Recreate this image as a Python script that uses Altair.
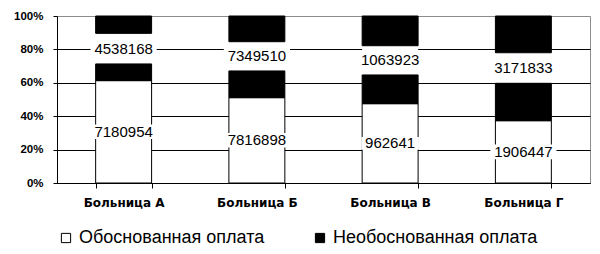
import altair as alt
import pandas as pd

hospitals = ["Больница А", "Больница Б", "Больница В", "Больница Г"]
series = ["Обоснованная оплата", "Необоснованная оплата"]
# segment shares (% of each bar), from bottom to top
just_lower = [61.3, 51.1, 47.5, 37.3]
unjust_lower = [10.0, 16.0, 17.2, 22.4]
just_upper = [18.3, 17.5, 17.5, 18.3]
unjust_upper = [10.4, 15.4, 17.8, 22.0]
labels_lower = [7180954, 7816898, 962641, 1906447]
labels_upper = [4538168, 7349510, 1063923, 3171833]
y_ticks = [0, 20, 40, 60, 80, 100]

rows = []
for i, h in enumerate(hospitals):
    segs = [
        (series[0], just_lower[i], "lower", str(labels_lower[i])),
        (series[1], unjust_lower[i], "lower", ""),
        (series[0], just_upper[i], "upper", str(labels_upper[i])),
        (series[1], unjust_upper[i], "upper", ""),
    ]
    base = 0.0
    for s, v, part, lab in segs:
        rows.append(dict(hospital=h, series=s, part=part, y0=base, y1=base + v,
                         mid=base + v / 2, label=lab))
        base += v
df = pd.DataFrame(rows)

x_enc = alt.X(
    "hospital:N", sort=hospitals, title=None,
    scale=alt.Scale(paddingInner=0.58, paddingOuter=0.29),
    axis=alt.Axis(labelAngle=0, tickBand="extent", tickSize=5, tickColor="black",
                  domainColor="black", labelFont="DejaVu Sans", labelFontWeight="bold",
                  labelFontSize=12, labelColor="black", labelPadding=9),
)
y_scale = alt.Scale(domain=[0, 100], nice=False)
y_axis = alt.Axis(
    values=y_ticks, labelExpr="datum.value + '%'", title=None, grid=True,
    gridColor={"condition": {"test": "datum.value === 100", "value": "#8c8c8c"}, "value": "black"},
    gridOpacity=1, domainColor="black", tickColor="black", tickSize=4,
    labelFont="Liberation Sans", labelFontWeight="bold", labelFontSize=11.5,
    labelColor="black", labelPadding=10,
)

base = alt.Chart(df)

gap = base.transform_filter(
    (alt.datum.part == "upper") & (alt.datum.series == series[0])
).mark_bar(fill="white", strokeWidth=0).encode(
    x=x_enc, y=alt.Y("y0:Q", scale=y_scale, axis=y_axis), y2="y1:Q"
)

main = base.transform_filter(
    ~((alt.datum.part == "upper") & (alt.datum.series == series[0]))
).mark_bar(stroke="black", strokeWidth=1).encode(
    x=x_enc,
    y=alt.Y("y0:Q", scale=y_scale, axis=y_axis),
    y2="y1:Q",
    color=alt.Color(
        "series:N",
        scale=alt.Scale(domain=series, range=["white", "black"]),
        legend=alt.Legend(
            title=None, orient="none", legendX=0, legendY=213, direction="horizontal",
            columns=2, columnPadding=46, symbolType="square", symbolSize=85,
            symbolStrokeColor="black", symbolStrokeWidth=1, symbolOpacity=1,
            labelFont="Liberation Sans", labelFontSize=18, labelColor="black",
            labelOffset=4, labelLimit=400, padding=0,
        ),
    ),
)

labeled = base.transform_filter(alt.datum.label != "").transform_calculate(
    boxsize="pow(length(datum.label) * 8.6 + 6, 2)"
)

boxes = labeled.mark_point(
    shape="M-1,-0.22L1,-0.22L1,0.22L-1,0.22Z", filled=True, fill="white",
    strokeWidth=0, opacity=1,
).encode(
    x=x_enc, y=alt.Y("mid:Q", scale=y_scale, axis=y_axis),
    size=alt.Size("boxsize:Q", scale=None, legend=None),
)

texts = labeled.mark_text(
    font="Liberation Sans", fontSize=15, color="black", baseline="middle", align="center"
).encode(
    x=x_enc, y=alt.Y("mid:Q", scale=y_scale, axis=y_axis), text="label:N"
)

chart = alt.layer(gap, main, boxes, texts).properties(
    width=533, height=167,
    autosize=alt.AutoSizeParams(type="none"),
    padding={"left": 57, "top": 16, "right": 10, "bottom": 71},
    background="white",
).configure_view(stroke="#8c8c8c", strokeWidth=1)

chart.save("out.html", embed_options={"renderer": "svg", "actions": False})
